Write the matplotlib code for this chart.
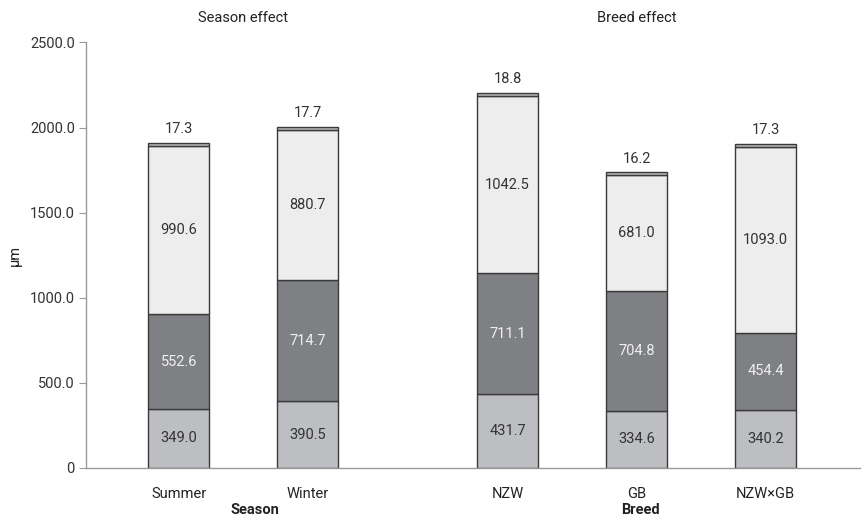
import matplotlib
matplotlib.use("Agg")
import matplotlib.pyplot as plt
import numpy as np

# ---- data -------------------------------------------------------------------
groups = ["Summer", "Winter", "NZW", "GB", "NZW\u00d7GB"]
layer1 = [349.0, 390.5, 431.7, 334.6, 340.2]     # bottom
layer2 = [552.6, 714.7, 711.1, 704.8, 454.4]     # middle (dark)
layer3 = [990.6, 880.7, 1042.5, 681.0, 1093.0]   # upper (light)
layer4 = [17.3, 17.7, 18.8, 16.2, 17.3]          # thin top
yticks = [0, 500, 1000, 1500, 2000, 2500]

# ---- style ------------------------------------------------------------------
FONT = ["Roboto", "DejaVu Sans"]
plt.rcParams["font.family"] = FONT
INK = "#333333"
AXC = "#9a9a9a"
colors = ["#bdbec2", "#7f8083", "#ededed", "#b3b3b3"]
txtc = [INK, "#f0f0f0", INK]

pos = np.array([0, 1, 2.55, 3.55, 4.55])
width = 0.47

fig = plt.figure(figsize=(8.64, 5.24), dpi=100)
ax = fig.add_axes([0.0995, 0.107, 0.8955, 0.812])

layers = [layer1, layer2, layer3, layer4]
bottom = np.zeros(len(groups))
for i, vals in enumerate(layers):
    vals = np.array(vals)
    ax.bar(pos, vals, width, bottom=bottom, color=colors[i],
           edgecolor="#3a3a3a", linewidth=1.0, zorder=2)
    if i < 3:
        for x, b, v in zip(pos, bottom, vals):
            ax.text(x, b + v / 2, f"{v:.1f}", ha="center", va="center",
                    fontsize=10.5, color=txtc[i], zorder=3)
    else:
        for x, b, v in zip(pos, bottom, vals):
            ax.text(x, b + v + 40, f"{v:.1f}", ha="center", va="bottom",
                    fontsize=10.5, color=INK, zorder=3)
    bottom = bottom + vals

ax.set_xlim(-0.719, 5.28)
ax.set_ylim(0, 2500)
ax.set_yticks(yticks)
ax.set_yticklabels(["0"] + [f"{t:.1f}" for t in yticks[1:]])
ax.set_xticks(pos)
ax.set_xticklabels(groups)

for s in ["top", "right"]:
    ax.spines[s].set_visible(False)
for s in ["left", "bottom"]:
    ax.spines[s].set_color(AXC)
    ax.spines[s].set_linewidth(1.0)
ax.tick_params(axis="y", length=5, color=AXC, labelsize=10.5,
               labelcolor=INK, pad=3)
ax.tick_params(axis="x", length=0, labelsize=10.5, labelcolor="#222222",
               pad=14)

fig.text(15 / 864, 1 - 255 / 524, "\u00b5m", rotation=90, ha="center",
         va="center", fontsize=10.5, color="#222222")

# group titles and axis captions
ax.text((pos[0] + pos[1]) / 2, 1.057, "Season effect", transform=ax.get_xaxis_transform(),
        ha="center", va="center", fontsize=10.5, color="#222222")
ax.text((pos[2] + pos[4]) / 2, 1.057, "Breed effect", transform=ax.get_xaxis_transform(),
        ha="center", va="center", fontsize=10.5, color="#222222")
ax.text(0.59, -0.1, "Season", transform=ax.get_xaxis_transform(),
        ha="center", va="center", fontsize=10.5, color="#222222",
        fontweight="bold")
ax.text((pos[2] + pos[4]) / 2 + 0.03, -0.1, "Breed", transform=ax.get_xaxis_transform(),
        ha="center", va="center", fontsize=10.5, color="#222222",
        fontweight="bold")

fig.savefig("out.png", dpi=100, facecolor="white")
